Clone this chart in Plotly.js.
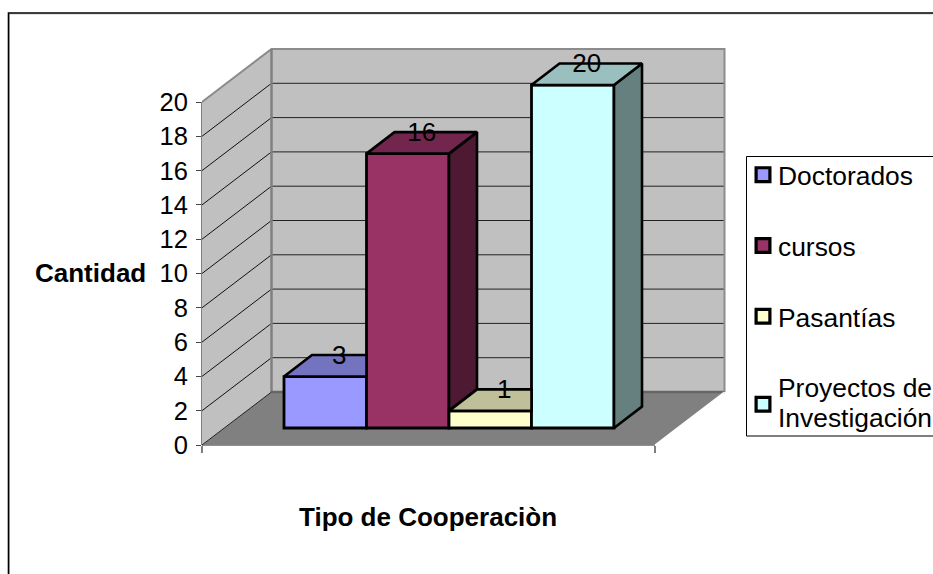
<!DOCTYPE html>
<html>
<head>
<meta charset="utf-8">
<script src="https://cdn.plot.ly/plotly-3.0.1.min.js"></script>
<style>html,body{margin:0;padding:0;background:#fff;}</style>
</head>
<body>
<div id="chart" style="width:933px;height:574px;"></div>
<script>
// Data
const categories = ['Doctorados', 'cursos', 'Pasantías', 'Proyectos de<br>Investigación'];
const values = [3, 16, 1, 20];
const yTicks = [0, 2, 4, 6, 8, 10, 12, 14, 16, 18, 20];

// Styles
const frontColors = ['#9999FF', '#993366', '#FFFFCC', '#CCFFFF'];
const topColors = ['#7373BF', '#73264D', '#BFBF99', '#99BFBF'];
const sideColors = ['#4D4D80', '#4D1933', '#80805F', '#668080'];
const FONT = 'Liberation Sans, Arial, sans-serif';

// Fake-3D projection, expressed in axis units
const W = 933, H = 574, L = 202, B = 445, UNIT = 17.15;
const xMax = W - L, yMax = B / UNIT;
const floorW = 453, wallDX = 69.5, wallDY = 53 / UNIT;
const barStart = 82, barW = 82.5, barLift = 17 / UNIT, barDX = 28, barDY = 21.5 / UNIT;
const px = p => (p - L) / xMax, py = p => (B - p) / B;

const shapes = [];
const poly = (pts, fill, lineColor, lineW, xref, yref) => ({
  type: 'path', layer: 'below', xref: xref || 'x', yref: yref || 'y',
  path: 'M' + pts.map(p => p.join(',')).join(' L') + (fill ? ' Z' : ''),
  fillcolor: fill || 'rgba(0,0,0,0)',
  line: {color: lineColor || 'rgba(0,0,0,0)', width: lineW || 0}
});
// outer frame + legend box
shapes.push(poly([[px(9.5), py(574)], [px(9.5), py(14)], [px(933), py(14)]], null, '#C8C8C8', 1, 'paper', 'paper'));
shapes.push(poly([[px(8.5), py(574)], [px(8.5), py(13)], [px(933), py(13)]], null, '#000000', 1.6, 'paper', 'paper'));
shapes.push(poly([[px(933), py(156.5)], [px(746.5), py(156.5)], [px(746.5), py(436)], [px(933), py(436)]], null, '#000000', 1, 'paper', 'paper'));
// walls and floor
shapes.push(poly([[0, 0], [wallDX, wallDY], [wallDX, 20 + wallDY], [0, 20]], '#C0C0C0'));
shapes.push(poly([[wallDX, wallDY], [floorW + wallDX, wallDY], [floorW + wallDX, 20 + wallDY], [wallDX, 20 + wallDY]], '#C0C0C0'));
shapes.push(poly([[0, 0], [wallDX, wallDY], [floorW + wallDX, wallDY], [floorW, 0]], '#808080'));
yTicks.filter(v => v > 0).forEach(v => {
  shapes.push(poly([[0, v], [wallDX, v + wallDY]], null, '#111111', 1));
  shapes.push(poly([[wallDX, v + wallDY], [floorW + wallDX, v + wallDY]], null, v === 20 ? '#555555' : '#222222', 1));
});
// wall edges
shapes.push(poly([[0, 20], [wallDX, 20 + wallDY], [floorW + wallDX, 20 + wallDY], [floorW + wallDX, wallDY]], null, '#8C8C8C', 2));
shapes.push(poly([[px(L), py(B)], [px(L), py(102)]], null, '#808080', 2, 'paper', 'paper'));
shapes.push(poly([[wallDX, wallDY], [wallDX, 20 + wallDY]], null, '#808080', 2.5));
shapes.push(poly([[wallDX, wallDY], [floorW + wallDX, wallDY]], null, '#666666', 2.5));
shapes.push(poly([[0, 0], [wallDX, wallDY]], null, '#222222', 1));
shapes.push(poly([[px(L), py(B - 1)], [px(L + floorW), py(B - 1)]], null, '#E0E0E0', 1, 'paper', 'paper'));
shapes.push(poly([[px(L), py(B)], [px(L + floorW), py(B)]], null, '#222222', 1.2, 'paper', 'paper'));
shapes.push(poly([[floorW, 0], [floorW + wallDX, wallDY]], null, '#FFFFFF', 1.4));

const traces = [];
// Fronts: true bars
categories.forEach((c, i) => {
  traces.push({
    type: 'bar', name: c, legendgroup: 'g' + i,
    x: [barStart + (i + 0.5) * barW], y: [values[i]], base: [barLift], width: [barW],
    marker: {color: frontColors[i], line: {color: '#000000', width: 2.8}},
    hoverinfo: 'name+y'
  });
});
// Tops and sides of every bar, hidden where a neighbouring bar's front or top covers them
categories.forEach((c, i) => {
  const l = barStart + i * barW, r = l + barW, t = values[i] + barLift;
  const hasNext = i < values.length - 1;
  const coveredByNext = hasNext && values[i + 1] > values[i];
  const sideBase = hasNext ? values[i + 1] + barLift : barLift;
  const topPts = coveredByNext
    ? [[l, t], [r, t], [r, t + barDY], [l + barDX, t + barDY]]
    : [[l, t], [r, t], [r + barDX, t + barDY], [l + barDX, t + barDY]];
  const addFace = (pts, color) => traces.push({
    type: 'scatter', mode: 'lines', fill: 'toself', fillcolor: color,
    x: pts.concat([pts[0]]).map(p => p[0]), y: pts.concat([pts[0]]).map(p => p[1]),
    line: {color: '#000000', width: 2.6}, showlegend: false, hoverinfo: 'skip'
  });
  if (!coveredByNext) {
    addFace([[r, sideBase], [r, t], [r + barDX, t + barDY], [r + barDX, sideBase + barDY]], sideColors[i]);
  }
  addFace(topPts, topColors[i]);
});
// Data labels
traces.push({
  type: 'scatter', mode: 'text', showlegend: false, hoverinfo: 'skip',
  x: values.map((v, i) => barStart + (i + 0.5) * barW + barDX / 2),
  y: values.map(v => v + barLift + barDY - 0.12),
  text: values.map(String), textposition: 'middle center',
  textfont: {family: FONT, size: 26, color: '#000000'}
});

const layout = {
  width: W, height: H, autosize: false,
  margin: {l: L, r: 0, t: 0, b: H - B, pad: 0, autoexpand: false},
  paper_bgcolor: '#FFFFFF', plot_bgcolor: 'rgba(0,0,0,0)',
  font: {family: FONT, color: '#000000', size: 24},
  barmode: 'overlay', showlegend: true,
  xaxis: {
    range: [0, xMax], showgrid: false, zeroline: false, showline: false,
    tickmode: 'array', tickvals: [0, floorW], ticktext: ['', ''],
    ticks: 'outside', ticklen: 7, tickcolor: '#808080', tickwidth: 1.5, fixedrange: true
  },
  yaxis: {
    range: [0, yMax], showgrid: false, zeroline: false, showline: false,
    tickmode: 'array', tickvals: yTicks, ticktext: yTicks.map(String),
    ticks: 'outside', ticklen: 5, tickcolor: '#444444', tickwidth: 1,
    ticklabelstandoff: 3, tickfont: {family: FONT, size: 25.5, color: '#000000'}, fixedrange: true
  },
  legend: {
    x: px(738), y: py(151), xanchor: 'left', yanchor: 'top',
    bgcolor: 'rgba(0,0,0,0)', borderwidth: 0, traceorder: 'grouped', tracegroupgap: 33.5,
    font: {family: FONT, size: 26.4, color: '#000000'}
  },
  annotations: [
    {xref: 'paper', yref: 'paper', x: px(90.5), y: py(273), text: '<b>Cantidad</b>', showarrow: false,
     xanchor: 'center', yanchor: 'middle', font: {family: FONT, size: 26, color: '#000000'}},
    {xref: 'paper', yref: 'paper', x: px(427.5), y: py(517), text: '<b>Tipo de Cooperaciòn</b>', showarrow: false,
     xanchor: 'center', yanchor: 'middle', font: {family: FONT, size: 26, color: '#000000'}}
  ],
  shapes: shapes
};
Plotly.newPlot('chart', traces, layout, {displayModeBar: false}).then(() => {
  // Legend fine-tuning: swatch size/offset and the tighter line spacing of the wrapped entry
  document.querySelectorAll('#chart .legend path.legendbar, #chart .legend .legendpoints path').forEach(p => {
    const t = p.getAttribute('transform') || '';
    p.setAttribute('transform', 'translate(5,0) ' + t + ' scale(1.15)');
  });
  document.querySelectorAll('#chart .legend .legendtext tspan.line').forEach((s, i) => {
    if (i > 0 && s.getAttribute('y')) {
      const y0 = parseFloat(s.getAttribute('y'));
      if (s.textContent.indexOf('Investig') === 0) s.setAttribute('y', y0 - 4.5);
    }
  });
});
</script>
</body>
</html>
